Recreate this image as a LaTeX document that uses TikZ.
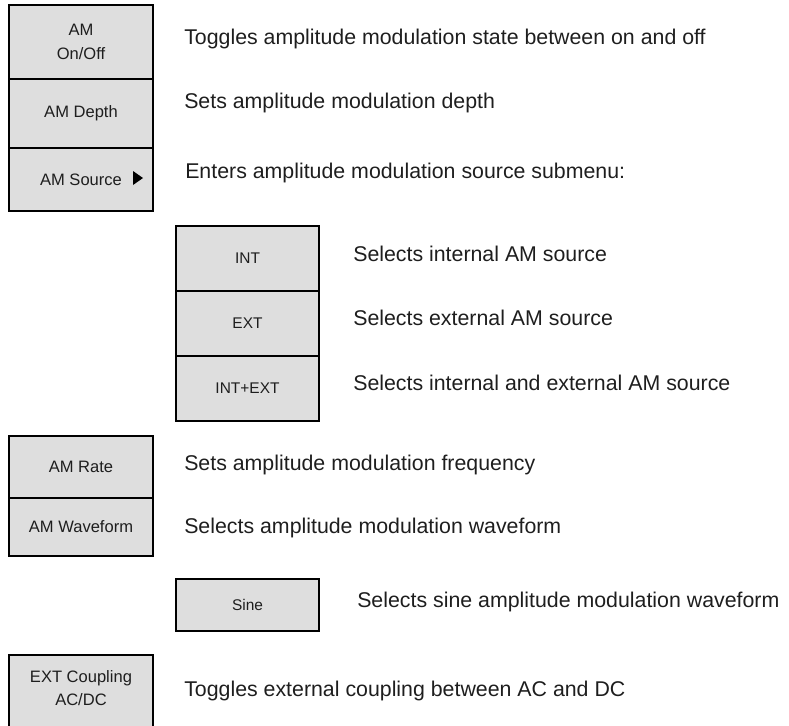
\documentclass[tikz,border=0pt]{standalone}
\usepackage{fontspec}
\setmainfont{Liberation Sans}
\definecolor{keygray}{RGB}{222, 222, 222}
\definecolor{inkblack}{RGB}{30, 30, 30}
\usepackage{tikz}
\usetikzlibrary{positioning}

\begin{document}
\begin{tikzpicture}[x=0.75pt, y=-0.75pt,
  softkey/.style={draw=black, line width=1.3pt, fill=keygray, align=center, text=inkblack,
    inner sep=0pt, minimum width=108pt, font=\fontsize{12.4}{18}\selectfont},
  subkey/.style={softkey, minimum width=107.25pt, font=\fontsize{11.6}{16}\selectfont},
  desc/.style={anchor=base west, inner sep=0pt, text=inkblack, font=\fontsize{16}{18}\selectfont}]
  \useasboundingbox (0, 0) rectangle (789, 725);
  \clip (0, 0) rectangle (789, 725);

  % AM softkey stack
  \node[softkey, minimum height=55.5pt] (amonoff) at (81, 42) {AM\\On/Off};
  \node[softkey, minimum height=51.75pt] (amdepth) at (81, 113.5) {AM Depth};
  \node[softkey, minimum height=47.25pt] (amsource) at (81, 179.5) {AM Source};
  \fill (133, 171) -- (143, 178) -- (133, 185) -- cycle;

  % Source submenu
  \foreach \nm/\y/\t in {srcint/258.5/INT, srcext/323.5/EXT, srcboth/388.5/INT+EXT} {
    \node[subkey, minimum height=48.75pt] (\nm) at (247.5, \y) {\t};
  }

  % Rate and waveform
  \node[softkey, minimum height=46.5pt] (amrate) at (81, 467) {AM Rate};
  \node[softkey, minimum height=43.5pt] (amwave) at (81, 527) {AM Waveform};
  \node[subkey, minimum height=39pt] (sine) at (247.5, 605) {Sine};

  % EXT coupling, runs off the bottom edge
  \node[softkey, anchor=north, minimum height=80pt] (extcpl) at (81, 654) {};
  \node[align=center, inner sep=0pt, text=inkblack, font=\fontsize{12.4}{17.25}\selectfont] (extlbl) at (81, 688) {EXT Coupling\\AC/DC};

  % Descriptions
  \foreach \nm/\x/\y/\t in {dtoggle/184/44/Toggles amplitude modulation state between on and off,
      ddepth/184/108/Sets amplitude modulation depth,
      dsource/185/178/Enters amplitude modulation source submenu:,
      dint/353/261/Selects internal AM source,
      dext/353/325/Selects external AM source,
      dboth/353/390/Selects internal and external AM source,
      drate/184/470/Sets amplitude modulation frequency,
      dwave/184/533/Selects amplitude modulation waveform,
      dsine/357/607/Selects sine amplitude modulation waveform,
      dcpl/184/696/Toggles external coupling between AC and DC} {
    \node[desc] (\nm) at (\x, \y) {\t};
  }
\end{tikzpicture}
\end{document}
